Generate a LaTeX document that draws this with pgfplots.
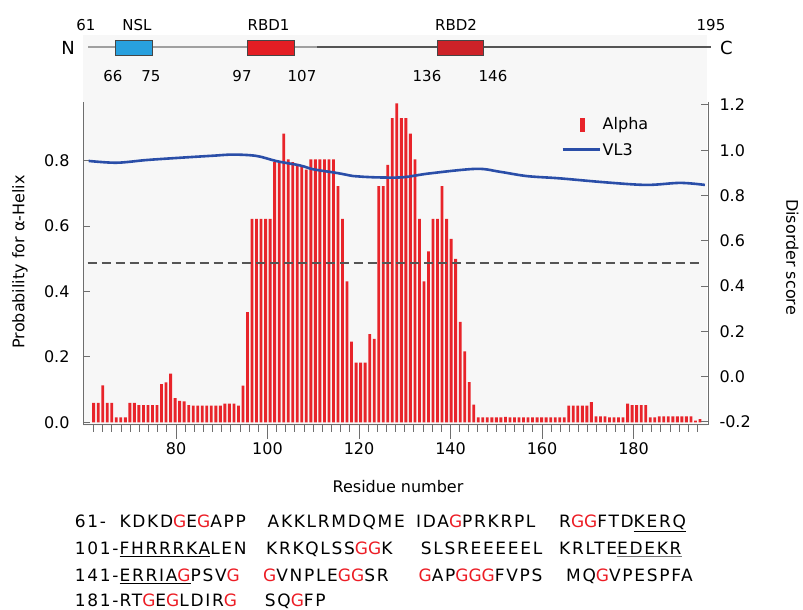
\documentclass[border=0pt]{standalone}
\usepackage{fontspec}
\setmainfont{DejaVu Sans}
\newfontfamily\seqfont[LetterSpace=10]{DejaVu Sans}
\usepackage{pgfplots}
\usepackage{pgfplotstable}
\pgfplotsset{compat=1.18}
\definecolor{barred}{RGB}{232,36,42}
\definecolor{vlblue}{RGB}{42,78,168}
\definecolor{axisgray}{RGB}{110,110,110}
\definecolor{panelgray}{RGB}{247,247,247}
\definecolor{dashgray}{RGB}{85,85,85}
\definecolor{nslblue}{RGB}{40,160,222}
\definecolor{rbdone}{RGB}{228,30,36}
\definecolor{rbdtwo}{RGB}{205,34,40}
\definecolor{seqred}{RGB}{236,28,36}
\definecolor{lightline}{RGB}{160,160,160}
\definecolor{darkline}{RGB}{85,85,85}
\definecolor{boxedge}{RGB}{70,70,70}
\definecolor{ulgray}{RGB}{120,120,120}
\newcommand\g{\textcolor{seqred}{G}}

\pgfplotstableread{
r val
61 0.060
62 0.060
63 0.113
64 0.060
65 0.060
66 0.015
67 0.015
68 0.015
69 0.060
70 0.060
71 0.053
72 0.053
73 0.053
74 0.053
75 0.053
76 0.117
77 0.122
78 0.149
79 0.074
80 0.066
81 0.064
82 0.053
83 0.051
84 0.051
85 0.051
86 0.051
87 0.051
88 0.051
89 0.051
90 0.057
91 0.057
92 0.057
93 0.051
94 0.112
95 0.337
96 0.622
97 0.622
98 0.622
99 0.622
100 0.622
101 0.796
102 0.796
103 0.883
104 0.804
105 0.796
106 0.790
107 0.780
108 0.773
109 0.804
110 0.804
111 0.804
112 0.804
113 0.804
114 0.804
115 0.722
116 0.622
117 0.431
118 0.247
119 0.183
120 0.183
121 0.183
122 0.270
123 0.255
124 0.722
125 0.722
126 0.787
127 0.930
128 0.975
129 0.930
130 0.930
131 0.883
132 0.804
133 0.622
134 0.431
135 0.523
136 0.622
137 0.622
138 0.722
139 0.622
140 0.561
141 0.500
142 0.307
143 0.217
144 0.123
145 0.054
146 0.015
147 0.015
148 0.015
149 0.015
150 0.015
151 0.015
152 0.017
153 0.015
154 0.015
155 0.015
156 0.015
157 0.015
158 0.015
159 0.015
160 0.015
161 0.015
162 0.015
163 0.015
164 0.015
165 0.015
166 0.051
167 0.051
168 0.051
169 0.051
170 0.051
171 0.062
172 0.018
173 0.018
174 0.018
175 0.015
176 0.015
177 0.015
178 0.015
179 0.057
180 0.053
181 0.053
182 0.053
183 0.053
184 0.015
185 0.015
186 0.018
187 0.018
188 0.018
189 0.018
190 0.018
191 0.018
192 0.018
193 0.018
194 0.005
195 0.010
}\alphatab

\pgfplotstableread{
x v
60.9 0.953
67.0 0.945
73.6 0.957
80.9 0.967
88.1 0.976
92.5 0.981
97.6 0.975
102.0 0.952
107.1 0.933
110.0 0.916
115.1 0.900
118.8 0.886
120.9 0.883
124.6 0.880
129.7 0.881
135.5 0.898
145.6 0.918
150.8 0.905
156.7 0.886
163.9 0.876
174.1 0.858
182.9 0.847
190.2 0.856
195.6 0.847
}\vltab

\begin{document}
\begin{tikzpicture}[x=1bp,y=1bp,
  seq/.style={anchor=base west, inner sep=0pt, font=\seqfont\fontsize{17bp}{20bp}\selectfont},
  dlab/.style={anchor=base, inner sep=0pt, font=\fontsize{15bp}{18bp}\selectfont}]
\useasboundingbox (0,0) rectangle (803,610);
\fill[panelgray] (83,184) rectangle (707,575);

% x axis with ticks
\begin{axis}[at={(83bp,185bp)}, anchor=south west, width=625bp, height=323bp, scale only axis,
  xmin=59.67, xmax=196.28, ymin=0, ymax=1,
  axis x line*=bottom, axis y line=none,
  xtick={80,100,...,180}, minor xtick={62,64,...,194},
  tick align=outside, major tick length=14bp, minor tick length=7bp,
  tick style={axisgray, line width=1bp},
  x axis line style={axisgray, line width=1bp},
  ticklabel style={font=\fontsize{16bp}{19bp}\selectfont},
  xticklabel style={/pgf/number format/assume math mode=true},
  xlabel={Residue number},
  every axis x label/.style={at={(axis description cs:0.504,-0.192)}, anchor=center, font=\fontsize{16bp}{19bp}\selectfont}]
\end{axis}

% left axis: alpha helix probability
\begin{axis}[at={(83bp,185bp)}, anchor=south west, width=625bp, height=323bp, scale only axis,
  xmin=59.67, xmax=196.28, ymin=-0.008, ymax=0.9795,
  axis x line=none, axis y line*=left,
  ytick={0,0.2,0.4,0.6,0.8},
  /pgf/number format/fixed, /pgf/number format/fixed zerofill, /pgf/number format/precision=1, /pgf/number format/assume math mode=true,
  yticklabel={\pgfmathprintnumber{\tick}\hspace*{10bp}},
  tick align=inside, major tick length=7bp,
  tick style={axisgray, line width=1bp},
  y axis line style={axisgray, line width=1bp},
  ticklabel style={font=\fontsize{16bp}{19bp}\selectfont},
  ylabel={Probability for α-Helix},
  every axis y label/.style={at={(axis description cs:-0.1008,0.505)}, rotate=90, anchor=center, font=\fontsize{16bp}{19bp}\selectfont}]
\addplot[ybar, bar width=0.62, fill=barred, draw=none] table[x expr={62+(\thisrow{r}-61)*0.989}, y=val] {\alphatab};
\end{axis}

% right axis: disorder score
\begin{axis}[at={(83bp,185bp)}, anchor=south west, width=625bp, height=323bp, scale only axis,
  xmin=59.67, xmax=196.28, ymin=-0.2133, ymax=1.2133,
  axis x line=none, axis y line*=right,
  ytick={-0.2,0,0.2,0.4,0.6,0.8,1.0,1.2},
  /pgf/number format/fixed, /pgf/number format/fixed zerofill, /pgf/number format/precision=1, /pgf/number format/assume math mode=true,
  yticklabel={\hspace*{8bp}\pgfmathprintnumber{\tick}},
  tick align=inside, major tick length=7bp,
  tick style={axisgray, line width=1bp},
  y axis line style={axisgray, line width=1bp},
  ticklabel style={font=\fontsize{16bp}{19bp}\selectfont},
  ylabel={Disorder score},
  every axis y label/.style={at={(axis description cs:1.135,0.52)}, rotate=-90, anchor=center, font=\fontsize{16bp}{19bp}\selectfont},
  legend style={draw=none, fill=none, at={(axis description cs:0.7648,0.957)}, anchor=north west,
    font=\fontsize{16bp}{19bp}\selectfont, inner xsep=0pt, inner ysep=0pt, row sep=9bp, nodes={inner sep=1.5bp}},
  legend cell align=left]
\addlegendimage{legend image code/.code={\path[draw=none, fill=none] (0bp,-6.5bp) rectangle (37bp,6.5bp); \fill[barred] (17.5bp,-6.5bp) rectangle (21bp,6.5bp);}}
\addlegendentry{Alpha}
\addlegendimage{legend image code/.code={\path[draw=none, fill=none] (0bp,-6.5bp) rectangle (37bp,6.5bp); \draw[vlblue, line width=3bp] (0bp,0bp) -- (37bp,0bp);}}
\addlegendentry{VL3}
\addplot[draw=dashgray, line width=2bp, dash pattern=on 9bp off 5bp, forget plot] coordinates {(60.7,0.5) (194.3,0.5)};
\addplot[vlblue, line width=2.6bp, smooth, tension=0.55, forget plot] table[x=x, y=v] {\vltab};
\end{axis}

% domain diagram
\begin{axis}[at={(88bp,555bp)}, anchor=south west, width=623bp, height=15bp, scale only axis,
  xmin=61, xmax=195, ymin=-1, ymax=1, hide axis, clip=false]
\addplot[draw=lightline, line width=2bp] coordinates {(61,0) (110.3,0)};
\addplot[draw=darkline, line width=2bp] coordinates {(110.3,0) (195,0)};
\addplot[fill=nslblue, draw=boxedge, line width=0.8bp] coordinates {(67.0,-1) (74.8,-1) (74.8,1) (67.0,1)} -- cycle;
\addplot[fill=rbdone, draw=boxedge, line width=0.8bp] coordinates {(95.2,-1) (105.3,-1) (105.3,1) (95.2,1)} -- cycle;
\addplot[fill=rbdtwo, draw=boxedge, line width=0.8bp] coordinates {(136.1,-1) (146.0,-1) (146.0,1) (136.1,1)} -- cycle;
\end{axis}

\node[dlab] at (86,579.5) {61};
\node[dlab] at (137,579.5) {NSL};
\node[dlab] at (268.5,579.5) {RBD1};
\node[dlab] at (456,579.5) {RBD2};
\node[dlab] at (711,579.5) {195};
\node[dlab] at (113,528.5) {66};
\node[dlab] at (151,528.5) {75};
\node[dlab] at (242,528.5) {97};
\node[dlab] at (302,528.5) {107};
\node[dlab] at (427,528.5) {136};
\node[dlab] at (493,528.5) {146};
\node[anchor=base, inner sep=0pt, font=\fontsize{18bp}{21bp}\selectfont] at (68,555) {N};
\node[anchor=base, inner sep=0pt, font=\fontsize{18bp}{21bp}\selectfont] at (726.5,555) {C};

% sequence
\node[seq] at (74.6,82) {61-};
\node[seq] at (119.4,82) {KDKD\g E\g APP};
\node[seq] at (267.5,82) {AKKLRMDQME};
\node[seq] at (416,82) {IDA\g PRKRPL};
\node[seq] at (559,82) {R\g\g FTD\underline{KERQ}};
\node[seq] at (74.6,55) {101-};
\node[seq] at (119.4,55) {\underline{FHRRRKA}LEN};
\node[seq] at (266,55) {KRKQLSS\g\g K};
\node[seq] at (420.7,55) {SLSREEEEEL};
\node[seq] at (559,55) {KRLTE{\color{ulgray}\underline{\color{black}EDEKR}}};
\node[seq] at (74.6,28.5) {141-};
\node[seq] at (119.4,28.5) {\underline{ERRIA\g}PSV\g};
\node[seq] at (263,28.5) {\g VNPLE\g\g SR};
\node[seq] at (418.4,28.5) {\g AP\g\g\g FVPS};
\node[seq] at (566,28.5) {MQ\g VPESPFA};
\node[seq] at (74.6,3) {181-};
\node[seq] at (119.4,3) {RT\g E\g LDIR\g};
\node[seq] at (264.7,3) {SQ\g FP};
\end{tikzpicture}
\end{document}
